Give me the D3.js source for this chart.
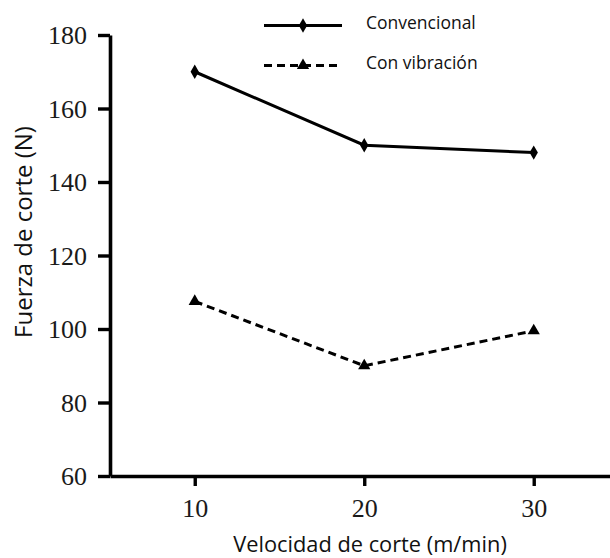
<!DOCTYPE html>
<html>
<head>
<meta charset="utf-8">
<script src="https://cdn.jsdelivr.net/npm/d3@7"></script>
<style>
  body { margin: 0; background: #fff; }
  svg { display: block; }
</style>
</head>
<body>
<svg id="chart" width="610" height="558"></svg>
<script>
// Cutting speed (m/min) and cutting force (N) for both machining modes
const speeds = [10, 20, 30];
const convencional = [170, 150, 148];
const conVibracion = [107.5, 90, 99.5];
const yTicks = [60, 80, 100, 120, 140, 160, 180];
const xTicks = [10, 20, 30];
const seriesNames = ["Convencional", "Con vibración"];

const svg = d3.select("#chart");

const x = d3.scaleLinear().domain([5, 34.5]).range([110, 610]);
const y = d3.scaleLinear().domain([60, 180]).range([476, 35]);

const serifFont = "'Liberation Serif', 'Times New Roman', serif";
const sansFont = "'Open Sans', 'Noto Sans', sans-serif";

// Axes
const yAxis = svg.append("g")
  .attr("transform", `translate(${x(5)},0)`)
  .call(d3.axisLeft(y).tickValues(yTicks).tickSize(12).tickSizeOuter(0).tickPadding(11));
const xAxis = svg.append("g")
  .attr("transform", `translate(0,${y(60)})`)
  .call(d3.axisBottom(x).tickValues(xTicks).tickSize(10).tickSizeOuter(0).tickPadding(12));

[yAxis, xAxis].forEach(g => {
  g.select(".domain").attr("stroke", "#000").attr("stroke-width", 3.6);
  g.selectAll(".tick line").attr("stroke", "#000").attr("stroke-width", 3.4);
  g.selectAll(".tick text")
    .attr("fill", "#1a1a1a")
    .style("font-family", serifFont)
    .style("font-size", "26px");
});
yAxis.selectAll(".tick text").attr("dy", "0.33em");
xAxis.selectAll(".tick text").attr("dy", "0.74em");

// Axis titles
svg.append("text")
  .attr("transform", `translate(32,232) rotate(-90)`)
  .attr("text-anchor", "middle")
  .style("font-family", sansFont)
  .style("font-size", "24px")
  .attr("fill", "#111")
  .text("Fuerza de corte (N)");

svg.append("text")
  .attr("x", 370)
  .attr("y", 552)
  .attr("text-anchor", "middle")
  .style("font-family", sansFont)
  .style("font-size", "21.8px")
  .attr("fill", "#111")
  .text("Velocidad de corte (m/min)");

// Series
const series = [
  { name: seriesNames[0], values: convencional, dash: null, symbol: d3.symbolDiamond, size: 60 },
  { name: seriesNames[1], values: conVibracion, dash: "8,5", symbol: d3.symbolTriangle, size: 65 }
];

const line = d3.line().x(d => x(d[0])).y(d => y(d[1]));

series.forEach(s => {
  const pts = speeds.map((v, i) => [v, s.values[i]]);
  svg.append("path")
    .datum(pts)
    .attr("fill", "none")
    .attr("stroke", "#000")
    .attr("stroke-width", 3)
    .attr("stroke-dasharray", s.dash)
    .attr("d", line);
  svg.selectAll(null)
    .data(pts)
    .enter()
    .append("path")
    .attr("transform", d => `translate(${x(d[0])},${y(d[1])})`)
    .attr("d", d3.symbol().type(s.symbol).size(s.size))
    .attr("fill", "#000");
});

// Legend
const legend = svg.append("g");
series.forEach((s, i) => {
  const ly = 25.5 + i * 40;
  legend.append("line")
    .attr("x1", 264).attr("x2", 342)
    .attr("y1", ly).attr("y2", ly)
    .attr("stroke", "#000")
    .attr("stroke-width", 3)
    .attr("stroke-dasharray", s.dash);
  legend.append("path")
    .attr("transform", `translate(303,${ly})`)
    .attr("d", d3.symbol().type(s.symbol).size(s.size))
    .attr("fill", "#000");
  legend.append("text")
    .attr("x", 366)
    .attr("y", ly - 2.5)
    .attr("dy", "0.35em")
    .style("font-family", sansFont)
    .style("font-size", "17.5px")
    .attr("fill", "#111")
    .text(s.name);
});
</script>
</body>
</html>
